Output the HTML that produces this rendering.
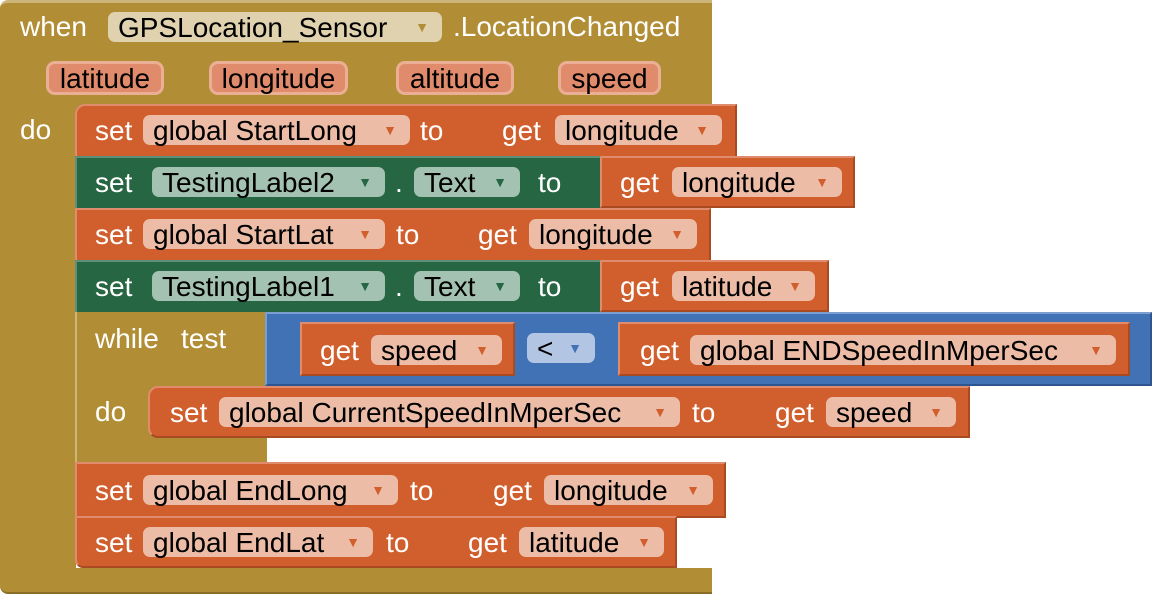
<!DOCTYPE html>
<html><head><meta charset="utf-8"><style>
body{margin:0;width:1152px;height:594px;background:#fff;overflow:hidden;position:relative;font-family:"Liberation Sans",sans-serif;font-size:28px}
div{position:absolute;box-sizing:border-box}
.g{background:#B18E35}
.o{background:#D15F2D;border-top:2px solid #E08C6C;border-left:2px solid #E08C6C;border-right:2px solid #A84A22;border-bottom:2px solid #A84A22}
.gr{background:#266643;border-top:2px solid #5E9077;border-left:2px solid #5E9077;border-right:2px solid #1B4B30;border-bottom:2px solid #1B4B30}
.bl{background:#4272B6;border-top:2px solid #7C9ED0;border-left:2px solid #7C9ED0;border-right:2px solid #2F5590;border-bottom:2px solid #2F5590}
.t{color:#fff;height:30px;line-height:31px;white-space:nowrap}
.f{background:#EDBCA6;color:#000;height:30px;line-height:31px;border-radius:7px;padding-left:10px;white-space:nowrap}
.fg{background:#A4C2B2;color:#000;height:30px;line-height:31px;border-radius:7px;padding-left:10px;white-space:nowrap}
.p{background:#E08B6B;border:3px solid #EBAF95;border-radius:9px;height:34px;line-height:30px;text-align:center;color:#000}
.a{font-size:14px;color:#D15F2D;position:absolute;right:13px;top:0}
.ag{font-size:14px;color:#266643;position:absolute;right:13px;top:0}
</style></head><body>
<div class="g" style="left:0;top:0;width:712px;height:110px;border-radius:8px 0 0 0;border-top:3px solid #CDB57A"></div>
<div class="g" style="left:0;top:100px;width:76px;height:480px"></div>
<div class="g" style="left:0;top:568px;width:712px;height:26px;border-bottom:2px solid #8A6E28;border-radius:0 0 0 8px"></div>
<div class="t" style="left:20px;top:11px">when</div>
<div class="f" style="left:108px;top:12px;width:334px;background:#E0D2AE">GPSLocation_Sensor<span class="a" style="color:#B18E35">▼</span></div>
<div class="t" style="left:453px;top:11px">.LocationChanged</div>
<div class="p" style="left:46px;top:61px;width:118px">latitude</div>
<div class="p" style="left:209px;top:61px;width:139px">longitude</div>
<div class="p" style="left:396px;top:61px;width:118px">altitude</div>
<div class="p" style="left:558px;top:61px;width:103px">speed</div>
<div class="t" style="left:20px;top:114px">do</div>

<div class="o" style="left:75px;top:104px;width:662px;height:54px;border-radius:10px 0 0 0"></div>
<div class="t" style="left:95px;top:115px">set</div>
<div class="f" style="left:143px;top:115px;width:267px">global StartLong<span class="a">▼</span></div>
<div class="t" style="left:420px;top:115px">to</div>
<div class="t" style="left:502px;top:115px">get</div>
<div class="f" style="left:555px;top:115px;width:167px">longitude<span class="a">▼</span></div>

<div class="gr" style="left:75px;top:156px;width:527px;height:54px"></div>
<div class="o" style="left:600px;top:156px;width:255px;height:52px"></div>
<div class="t" style="left:95px;top:167px">set</div>
<div class="fg" style="left:152px;top:167px;width:233px">TestingLabel2<span class="ag">▼</span></div>
<div class="t" style="left:395px;top:167px">.</div>
<div class="fg" style="left:414px;top:167px;width:106px">Text<span class="ag">▼</span></div>
<div class="t" style="left:538px;top:167px">to</div>
<div class="t" style="left:620px;top:167px">get</div>
<div class="f" style="left:672px;top:167px;width:170px">longitude<span class="a">▼</span></div>

<div class="o" style="left:75px;top:208px;width:636px;height:54px"></div>
<div class="t" style="left:95px;top:219px">set</div>
<div class="f" style="left:143px;top:219px;width:242px">global StartLat<span class="a">▼</span></div>
<div class="t" style="left:396px;top:219px">to</div>
<div class="t" style="left:478px;top:219px">get</div>
<div class="f" style="left:529px;top:219px;width:168px">longitude<span class="a">▼</span></div>

<div class="gr" style="left:75px;top:260px;width:527px;height:54px"></div>
<div class="o" style="left:600px;top:260px;width:229px;height:52px"></div>
<div class="t" style="left:95px;top:271px">set</div>
<div class="fg" style="left:152px;top:271px;width:233px">TestingLabel1<span class="ag">▼</span></div>
<div class="t" style="left:395px;top:271px">.</div>
<div class="fg" style="left:414px;top:271px;width:106px">Text<span class="ag">▼</span></div>
<div class="t" style="left:538px;top:271px">to</div>
<div class="t" style="left:620px;top:271px">get</div>
<div class="f" style="left:672px;top:271px;width:143px">latitude<span class="a">▼</span></div>

<div class="g" style="left:75px;top:312px;width:192px;height:152px;border-left:2px solid #CDB57A"></div>
<div class="t" style="left:95px;top:323px">while</div>
<div class="t" style="left:181px;top:323px">test</div>
<div class="bl" style="left:265px;top:312px;width:887px;height:74px"></div>
<div class="o" style="left:300px;top:322px;width:215px;height:54px"></div>
<div class="t" style="left:320px;top:335px">get</div>
<div class="f" style="left:371px;top:335px;width:131px">speed<span class="a">▼</span></div>
<div class="f" style="left:527px;top:333px;width:68px;background:#B2C6E4">&lt;<span class="a" style="color:#4272B6">▼</span></div>
<div class="o" style="left:618px;top:322px;width:512px;height:54px"></div>
<div class="t" style="left:640px;top:335px">get</div>
<div class="f" style="left:690px;top:335px;width:426px">global ENDSpeedInMperSec<span class="a">▼</span></div>
<div class="t" style="left:95px;top:396px">do</div>
<div class="o" style="left:148px;top:386px;width:822px;height:52px;border-radius:10px 0 0 10px"></div>
<div class="t" style="left:170px;top:397px">set</div>
<div class="f" style="left:219px;top:397px;width:461px">global CurrentSpeedInMperSec<span class="a">▼</span></div>
<div class="t" style="left:692px;top:397px">to</div>
<div class="t" style="left:775px;top:397px">get</div>
<div class="f" style="left:826px;top:397px;width:130px">speed<span class="a">▼</span></div>

<div class="o" style="left:75px;top:462px;width:651px;height:56px"></div>
<div class="t" style="left:95px;top:475px">set</div>
<div class="f" style="left:143px;top:475px;width:255px">global EndLong<span class="a">▼</span></div>
<div class="t" style="left:410px;top:475px">to</div>
<div class="t" style="left:493px;top:475px">get</div>
<div class="f" style="left:544px;top:475px;width:169px">longitude<span class="a">▼</span></div>

<div class="o" style="left:75px;top:516px;width:602px;height:52px;border-radius:0 0 0 8px"></div>
<div class="t" style="left:95px;top:527px">set</div>
<div class="f" style="left:143px;top:527px;width:230px">global EndLat<span class="a">▼</span></div>
<div class="t" style="left:386px;top:527px">to</div>
<div class="t" style="left:468px;top:527px">get</div>
<div class="f" style="left:519px;top:527px;width:145px">latitude<span class="a">▼</span></div>
</body></html>
